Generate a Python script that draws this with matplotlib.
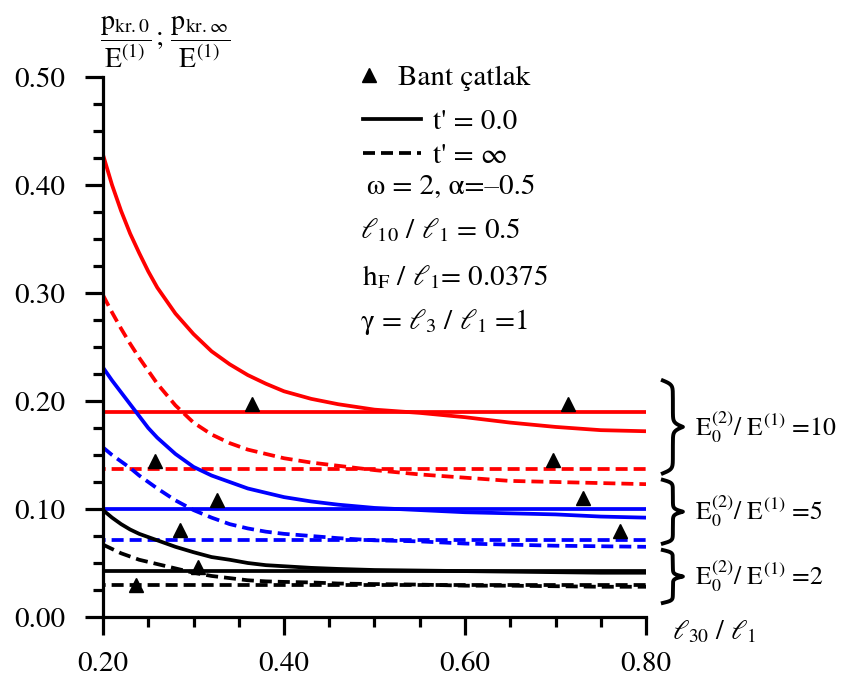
import matplotlib
matplotlib.use("Agg")
import matplotlib.pyplot as plt
import matplotlib.transforms as mtransforms
from matplotlib.lines import Line2D
from matplotlib.ticker import MultipleLocator, FormatStrFormatter
import numpy as np

plt.rcParams['font.family'] = ['STIXGeneral', 'DejaVu Serif']
plt.rcParams['mathtext.fontset'] = 'stix'

# l30/l1 values where curves were read
x = [0.20, 0.21, 0.22, 0.23, 0.24, 0.25, 0.26, 0.28, 0.30, 0.32, 0.34, 0.36,
     0.38, 0.40, 0.43, 0.46, 0.50, 0.55, 0.60, 0.65, 0.70, 0.75, 0.80]

# E0(2)/E(1) = 10
red_t0 = [0.428, 0.400, 0.376, 0.355, 0.337, 0.320, 0.305, 0.281, 0.262, 0.246, 0.234, 0.224,
          0.216, 0.209, 0.202, 0.197, 0.192, 0.189, 0.185, 0.180, 0.176, 0.173, 0.172]
red_tinf = [0.298, 0.282, 0.267, 0.253, 0.240, 0.228, 0.216, 0.196, 0.180, 0.169, 0.161, 0.155,
            0.151, 0.147, 0.143, 0.140, 0.136, 0.132, 0.129, 0.126, 0.125, 0.124, 0.123]
# E0(2)/E(1) = 5
blue_t0 = [0.231, 0.219, 0.208, 0.197, 0.186, 0.175, 0.166, 0.151, 0.139, 0.131, 0.125, 0.119,
           0.115, 0.111, 0.107, 0.104, 0.101, 0.099, 0.097, 0.096, 0.095, 0.093, 0.092]
blue_tinf = [0.157, 0.150, 0.144, 0.138, 0.131, 0.125, 0.119, 0.108, 0.099, 0.092, 0.086, 0.082,
             0.079, 0.077, 0.075, 0.073, 0.071, 0.070, 0.068, 0.067, 0.066, 0.0655, 0.065]
# E0(2)/E(1) = 2
black_t0 = [0.099, 0.092, 0.086, 0.081, 0.077, 0.074, 0.071, 0.065, 0.060, 0.0555, 0.053, 0.050,
            0.048, 0.047, 0.0455, 0.0445, 0.0435, 0.043, 0.0425, 0.042, 0.0415, 0.041, 0.041]
black_tinf = [0.067, 0.063, 0.059, 0.056, 0.053, 0.051, 0.049, 0.045, 0.041, 0.038, 0.036, 0.034,
              0.033, 0.0325, 0.032, 0.031, 0.0305, 0.030, 0.029, 0.029, 0.0285, 0.028, 0.028]

# band crack (Bant çatlak) levels, constant in l30/l1
band_x = [0.20, 0.80]
band_red = [0.190, 0.137]
band_blue = [0.100, 0.0715]
band_black = [0.043, 0.030]

# triangle points
tri_x = [0.365, 0.714, 0.258, 0.697, 0.326, 0.730, 0.285, 0.771, 0.305, 0.237]
tri_y = [0.197, 0.197, 0.144, 0.145, 0.108, 0.110, 0.081, 0.080, 0.046, 0.030]

# brace spans for the three groups
brace_spans = [(0.133, 0.219), (0.068, 0.127), (0.013, 0.062)]
group_labels = [r"E$_0^{(2)}$/ E$^{(1)}$ =10", r"E$_0^{(2)}$/ E$^{(1)}$ =5", r"E$_0^{(2)}$/ E$^{(1)}$ =2"]

W, H = 843, 689
fig = plt.figure(figsize=(W / 100, H / 100), dpi=100)
ax = fig.add_axes([103 / W, 1 - 617 / H, 543 / W, 540 / H])

lw = 2.7
dash = (0, (3.2, 1.6))
dash_h = (2.5, (3.2, 1.6))

for col, c0, cinf, (b0, binf) in [("#ff0000", red_t0, red_tinf, band_red),
                                  ("#0000ff", blue_t0, blue_tinf, band_blue),
                                  ("k", black_t0, black_tinf, band_black)]:
    ax.plot(x, c0, color=col, lw=lw, solid_capstyle='butt', solid_joinstyle='round')
    ax.plot(x, cinf, color=col, lw=lw, linestyle=dash)
    ax.plot(band_x, [b0, b0], color=col, lw=lw, solid_capstyle='butt')
    ax.plot(band_x, [binf, binf], color=col, lw=lw, linestyle=dash_h)

ax.plot(tri_x, tri_y, linestyle='none', marker='^', color='k', ms=10, zorder=5)

ax.set_xlim(0.2, 0.8)
ax.set_ylim(0, 0.5)
ax.spines['top'].set_visible(False)
ax.spines['right'].set_visible(False)
for s in ['left', 'bottom']:
    ax.spines[s].set_linewidth(2.3)
ax.xaxis.set_major_locator(MultipleLocator(0.2))
ax.xaxis.set_minor_locator(MultipleLocator(0.05))
ax.yaxis.set_major_locator(MultipleLocator(0.1))
ax.yaxis.set_minor_locator(MultipleLocator(0.025))
ax.xaxis.set_major_formatter(FormatStrFormatter('%.2f'))
ax.yaxis.set_major_formatter(FormatStrFormatter('%.2f'))
ax.tick_params(which='major', direction='out', length=13, width=2.3, labelsize=21, pad=14)
ax.tick_params(axis='x', which='major', pad=12)
ax.tick_params(which='minor', direction='out', length=7, width=2.3)

# legend
h_tri = Line2D([], [], linestyle='none', marker='^', color='k', ms=10)
leg1 = ax.legend([h_tri], ["Bant çatlak"], loc='upper left', frameon=False,
                 bbox_to_anchor=(354 / W, 1 - 65 / H), bbox_transform=fig.transFigure,
                 fontsize=21, handlelength=1.0, handletextpad=0.5, borderpad=0, borderaxespad=0)
ax.add_artist(leg1)
h_solid = Line2D([], [], color='k', lw=lw)
h_dash = Line2D([], [], color='k', lw=lw, linestyle=dash)
ax.legend([h_solid, h_dash], ["t' = 0.0", "t' = ∞"], loc='upper left', frameon=False,
          bbox_to_anchor=(363 / W, 1 - 109 / H), bbox_transform=fig.transFigure,
          fontsize=21, handlelength=2.0, handletextpad=0.4, labelspacing=0.25,
          borderpad=0, borderaxespad=0)

info = [(367, 188, "ω = 2, α=–0.5"),
        (360, 230, r"$\ell_{10}$ / $\ell_1$ = 0.5"),
        (362, 277, r"h$_\mathrm{F}$ / $\ell_1$= 0.0375"),
        (360, 322, r"γ = $\ell_3$ / $\ell_1$ =1")]
for px, py, s in info:
    fig.text(px / W, 1 - py / H, s, fontsize=21, ha='left', va='center')

# y label
fig.text(165 / W, 1 - 42 / H,
         r"$\dfrac{\mathrm{p}_{\mathrm{kr.0}}}{\mathrm{E}^{(1)}}\,;\,\dfrac{\mathrm{p}_{\mathrm{kr.}\infty}}{\mathrm{E}^{(1)}}$",
         fontsize=20, ha='center', va='center')
# x label
fig.text(672 / W, 1 - 632 / H, r"$\ell_{30}$ / $\ell_1$", fontsize=20, ha='left', va='center')


def curly_brace(ax, y0, y1, x0, w):
    n = 401
    t = np.linspace(0, 0.5, n // 2 + 1)
    beta = 45.0
    xh = 1 / (1 + np.exp(-beta * (t - t[0]))) + 1 / (1 + np.exp(-beta * (t - t[-1])))
    xs = np.concatenate((xh, xh[-2::-1]))
    ys = y0 + (y1 - y0) * np.linspace(0, 1, len(xs))
    trans = mtransforms.blended_transform_factory(ax.transAxes, ax.transData)
    ax.plot(x0 + (xs - 0.5) * w, ys, color='k', lw=2.8, transform=trans, clip_on=False)


for (y0, y1), lab in zip(brace_spans, group_labels):
    curly_brace(ax, y0, y1, 1.031, 0.037)
    yc = (y0 + y1) / 2
    ax.text(1.09, yc, lab, transform=mtransforms.blended_transform_factory(ax.transAxes, ax.transData),
            fontsize=18.5, ha='left', va='center')

fig.savefig("out.png", dpi=100)
